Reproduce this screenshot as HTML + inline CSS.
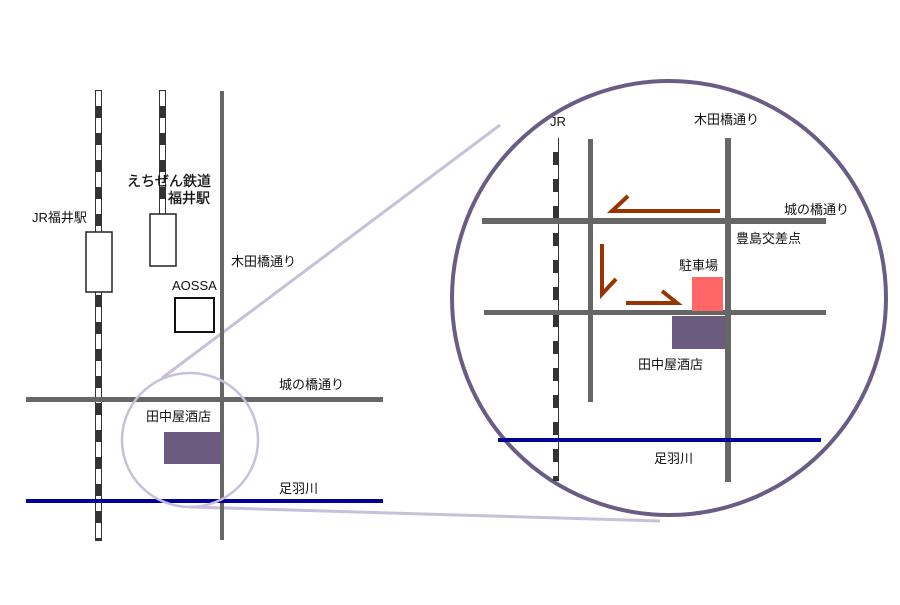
<!DOCTYPE html><html><head><style>body{margin:0;background:#fff}svg text{font-family:"Liberation Sans","Noto Sans CJK JP",sans-serif;font-size:13px;fill:#111}</style></head><body>
<svg width="900" height="600" xmlns="http://www.w3.org/2000/svg">
<line x1="162" y1="378" x2="500" y2="125" stroke="#c8c0d8" stroke-width="3"/>
<line x1="190" y1="507" x2="660" y2="521" stroke="#c8c0d8" stroke-width="3"/>
<line x1="98.5" y1="90" x2="98.5" y2="541" stroke="#333" stroke-width="7"/>
<line x1="98.5" y1="91" x2="98.5" y2="540" stroke="#fff" stroke-width="5" stroke-dasharray="15 12"/>
<line x1="162.5" y1="90" x2="162.5" y2="215" stroke="#333" stroke-width="7"/>
<line x1="162.5" y1="91" x2="162.5" y2="215" stroke="#fff" stroke-width="5" stroke-dasharray="15 12"/>
<rect x="220" y="91" width="4" height="449" fill="#666"/>
<rect x="26" y="397" width="357" height="5" fill="#666"/>
<rect x="26" y="499" width="357" height="4" fill="#000099"/>
<rect x="86" y="232" width="26" height="60" fill="#fff" stroke="#222" stroke-width="1.5"/>
<rect x="150" y="214" width="26" height="52" fill="#fff" stroke="#222" stroke-width="1.5"/>
<rect x="175" y="298" width="39" height="34" fill="#fff" stroke="#111" stroke-width="2"/>
<rect x="164" y="432" width="57" height="32" fill="#6b5b7f"/>
<ellipse cx="190" cy="440" rx="68" ry="67" fill="none" stroke="#c8c0d8" stroke-width="2.5"/>
<text x="32" y="222">JR福井駅</text>
<text x="127" y="186" style="font-size:14px;stroke:#111;stroke-width:0.3">えちぜん鉄道</text>
<text x="168" y="203" style="font-size:14px;stroke:#111;stroke-width:0.3">福井駅</text>
<text x="172" y="290">AOSSA</text>
<text x="231" y="266">木田橋通り</text>
<text x="279" y="389">城の橋通り</text>
<text x="146" y="421">田中屋酒店</text>
<text x="279" y="493">足羽川</text>
<circle cx="669" cy="298" r="217" fill="#fff" stroke="#6a5d85" stroke-width="4"/>
<line x1="555.5" y1="152" x2="555.5" y2="481" stroke="#333" stroke-width="5" stroke-dasharray="13 14"/>
<line x1="558.5" y1="138" x2="558.5" y2="481" stroke="#333" stroke-width="1"/>
<rect x="588" y="139" width="5" height="263" fill="#666"/>
<rect x="725" y="138" width="6" height="344" fill="#666"/>
<rect x="482" y="218" width="344" height="6" fill="#666"/>
<rect x="484" y="310" width="342" height="5" fill="#666"/>
<rect x="498" y="438" width="323" height="4" fill="#000099"/>
<rect x="692" y="277" width="31" height="34" fill="#ff6666"/>
<rect x="672" y="316" width="53" height="33" fill="#6b5b7f"/>
<g stroke="#993300" stroke-width="4" fill="none">
<polyline points="720,211 612,211 628,196"/>
<polyline points="602,244 602,294 616,279"/>
<polyline points="626,303 677,303 662,291"/>
</g>
<text x="550" y="126">JR</text>
<text x="694" y="124">木田橋通り</text>
<text x="784" y="214">城の橋通り</text>
<text x="736" y="243">豊島交差点</text>
<text x="679" y="270">駐車場</text>
<text x="638" y="369">田中屋酒店</text>
<text x="654" y="463">足羽川</text>
</svg>
</body></html>
